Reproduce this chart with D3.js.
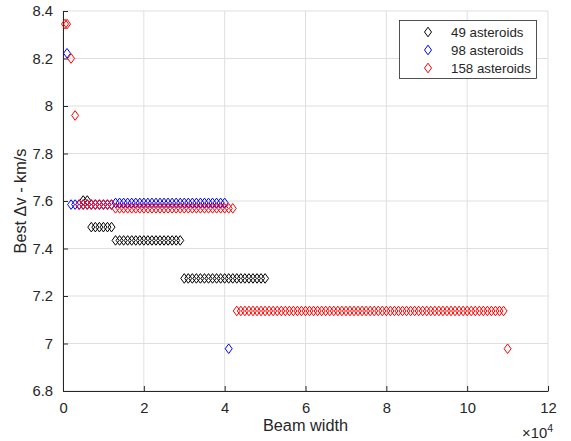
<!DOCTYPE html>
<html>
<head>
<meta charset="utf-8">
<script src="https://cdn.jsdelivr.net/npm/d3@7"></script>
<style>
  body { margin: 0; background: #fff; }
  text { font-family: "Liberation Sans", Arial, sans-serif; fill: #262626; }
</style>
</head>
<body>
<svg id="canvas" width="571" height="441"></svg>
<script>
// ---------------- data ----------------
// beam widths were sampled every 1000; each run is [first beam width, last beam width, best dv]
let beamStep = 1000;
let runs49 = [[5000, 6000, 7.602], [7000, 12000, 7.49], [13000, 29000, 7.434], [30000, 50000, 7.274]];
let runs98 = [[1000, 1000, 8.222], [2000, 12000, 7.585], [13000, 40000, 7.592], [41000, 41000, 6.978]];
let runs158 = [[500, 500, 8.345], [1000, 1000, 8.345], [2000, 2000, 8.2], [3000, 3000, 7.96],
               [4000, 12000, 7.585], [13000, 42000, 7.569], [43000, 109000, 7.137], [110000, 110000, 6.978]];

let seriesNames = ['49 asteroids', '98 asteroids', '158 asteroids'];
let seriesColors = ['#000000', '#0000ff', '#ff0000'];
let xTicks = [0, 2, 4, 6, 8, 10, 12];
let yTicks = [6.8, 7, 7.2, 7.4, 7.6, 7.8, 8, 8.2, 8.4];

let expand = (runs) => runs.flatMap(r => d3.range(r[0], r[1] + 1, beamStep).map(b => ({x: b, y: r[2]})));
let series = [runs49, runs98, runs158].map(expand);

// ---------------- layout ----------------
let plotLeft = 63, plotTop = 11, plotRight = 548, plotBottom = 391;
let canvas = d3.select('#canvas');

let xScale = d3.scaleLinear().domain([0, 120000]).range([plotLeft, plotRight]);
let yScale = d3.scaleLinear().domain([6.8, 8.4]).range([plotBottom, plotTop]);

// grid
canvas.append('g').selectAll('line').data(xTicks).enter().append('line')
  .attr('x1', d => xScale(d * 1e4)).attr('x2', d => xScale(d * 1e4))
  .attr('y1', plotTop).attr('y2', plotBottom)
  .attr('stroke', '#dfdfdf').attr('stroke-width', 1);
canvas.append('g').selectAll('line').data(yTicks).enter().append('line')
  .attr('y1', d => yScale(d)).attr('y2', d => yScale(d))
  .attr('x1', plotLeft).attr('x2', plotRight)
  .attr('stroke', '#dfdfdf').attr('stroke-width', 1);

// axes, ticks pointing inwards like matlab
let xAxis = d3.axisBottom(xScale).tickValues(xTicks.map(d => d * 1e4))
  .tickFormat(d => d / 1e4).tickSizeInner(-5).tickSizeOuter(0).tickPadding(11);
let yAxis = d3.axisLeft(yScale).tickValues(yTicks)
  .tickFormat(d => d3.format('~g')(d)).tickSizeInner(-5).tickSizeOuter(0).tickPadding(10);

let gx = canvas.append('g').attr('transform', `translate(0,${plotBottom})`).call(xAxis);
let gy = canvas.append('g').attr('transform', `translate(${plotLeft},0)`).call(yAxis);
[gx, gy].forEach(g => {
  g.select('.domain').attr('stroke', '#262626');
  g.selectAll('.tick line').attr('stroke', '#262626');
  g.selectAll('.tick text').style('font-size', '14.8px')
    .style('font-family', '"Liberation Sans", Arial, sans-serif').attr('fill', '#262626');
});

// diamonds
let diamond = 'M0,-4.8L3.5,0L0,4.8L-3.5,0Z';
series.forEach((pts, i) => {
  canvas.append('g').selectAll('path').data(pts).enter().append('path')
    .attr('d', diamond)
    .attr('transform', d => `translate(${xScale(d.x)},${yScale(d.y)})`)
    .attr('fill', 'none')
    .attr('stroke', seriesColors[i])
    .attr('stroke-width', 1);
});

// labels
canvas.append('text').attr('x', (plotLeft + plotRight) / 2).attr('y', 431)
  .attr('text-anchor', 'middle').style('font-size', '16.3px').text('Beam width');
canvas.append('text').attr('transform', `translate(26,${(plotTop + plotBottom) / 2}) rotate(-90)`)
  .attr('text-anchor', 'middle').style('font-size', '16.3px').text('Best Δv - km/s');
let expLabel = canvas.append('text').attr('x', 553).attr('y', 438).attr('text-anchor', 'end')
  .style('font-size', '14.8px');
expLabel.append('tspan').text('×10');
expLabel.append('tspan').attr('dy', -6).style('font-size', '10.5px').text('4');

// legend
let legend = canvas.append('g');
legend.append('rect').attr('x', 399.5).attr('y', 20.5).attr('width', 137).attr('height', 58)
  .attr('fill', '#fff').attr('stroke', '#262626').attr('stroke-width', 0.8);
seriesNames.forEach((name, i) => {
  let yy = 32 + i * 18;
  legend.append('path').attr('d', diamond).attr('transform', `translate(428,${yy})`)
    .attr('fill', 'none').attr('stroke', seriesColors[i]).attr('stroke-width', 1);
  legend.append('text').attr('x', 451).attr('y', yy + 4.6).style('font-size', '13.3px').text(name);
});
</script>
</body>
</html>
